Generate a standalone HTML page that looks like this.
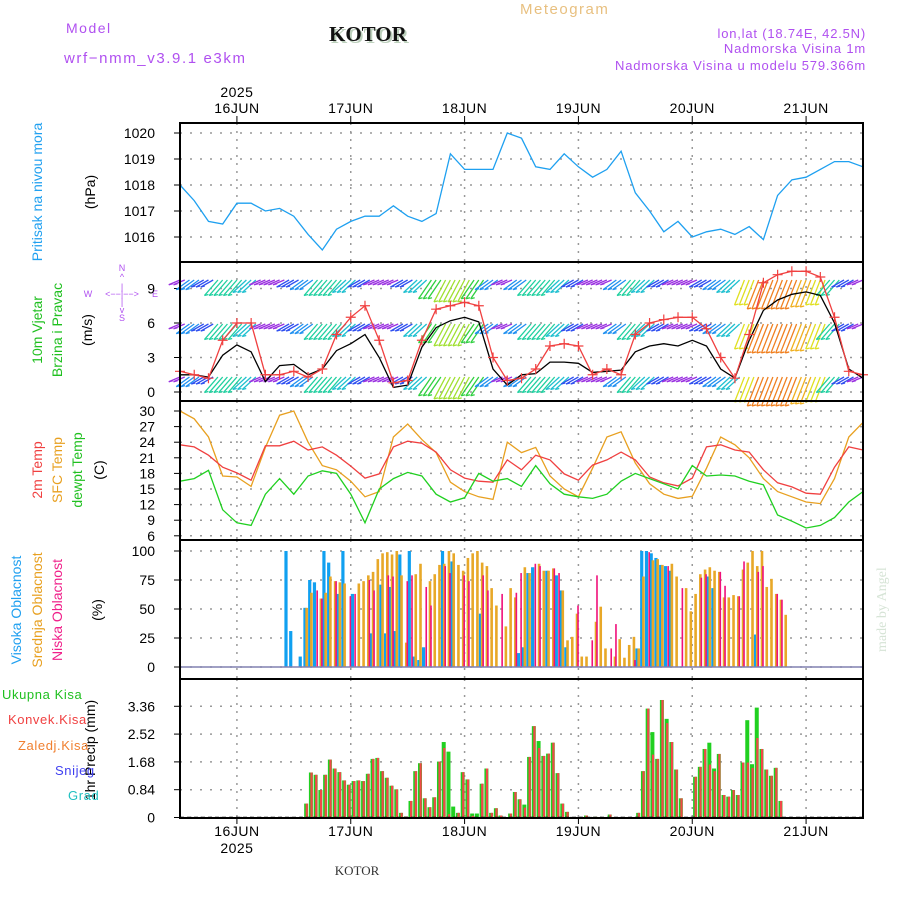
<!DOCTYPE html>
<html><head><meta charset="utf-8"><style>
html,body{margin:0;padding:0;background:#fff;width:900px;height:900px;overflow:hidden}
svg{display:block;font-family:"Liberation Sans",sans-serif}
</style></head><body>
<svg id="chart" width="900" height="900" viewBox="0 0 900 900">
<g>
<text x="66" y="33" font-size="14" fill="#b050f0" letter-spacing="1.5">Model</text>
<text x="64" y="63" font-size="15" fill="#b050f0" letter-spacing="1.6">wrf−nmm_v3.9.1 e3km</text>
<text x="331" y="43" font-size="21" font-weight="bold" font-family="Liberation Serif,serif" fill="#bcd0bc">KOTOR</text>
<text x="329" y="41" font-size="21" font-weight="bold" font-family="Liberation Serif,serif" fill="#111">KOTOR</text>
<text x="520" y="14" font-size="15" fill="#e8c080" letter-spacing="1.5">Meteogram</text>
<text x="866" y="38" font-size="13" fill="#b050f0" text-anchor="end" letter-spacing="0.8">lon,lat (18.74E, 42.5N)</text>
<text x="866" y="53" font-size="13" fill="#b050f0" text-anchor="end" letter-spacing="0.8">Nadmorska Visina 1m</text>
<text x="866" y="70" font-size="13" fill="#b050f0" text-anchor="end" letter-spacing="0.8">Nadmorska Visina u modelu 579.366m</text>
<text x="357" y="875" font-size="13" font-family="Liberation Serif,serif" fill="#333" text-anchor="middle">KOTOR</text>
<text transform="translate(886,652) rotate(-90)" font-size="14" font-family="Liberation Serif,serif" fill="#d6e4d6">made by Angel</text>
</g>
<g font-size="14">
<text transform="translate(42,192) rotate(-90)" fill="#20a0f0" text-anchor="middle">Pritisak na nivou mora</text>
<text transform="translate(95,192) rotate(-90)" fill="#000" text-anchor="middle">(hPa)</text>
<text transform="translate(42,330) rotate(-90)" fill="#20c020" text-anchor="middle">10m Vjetar</text>
<text transform="translate(62,330) rotate(-90)" fill="#20c020" text-anchor="middle">Brzina i Pravac</text>
<text transform="translate(92,330) rotate(-90)" fill="#000" text-anchor="middle">(m/s)</text>
<g fill="#b050f0" font-size="9" text-anchor="middle">
<text x="122" y="271">N</text><text x="122" y="280">^</text><text x="122" y="290">|</text>
<text x="88" y="297">W</text><text x="122" y="297">&lt;−−|−−&gt;</text><text x="155" y="297">E</text>
<text x="122" y="305">|</text><text x="122" y="313">v</text><text x="122" y="321">S</text>
</g>
<text transform="translate(42,470) rotate(-90)" fill="#f04040" text-anchor="middle">2m Temp</text>
<text transform="translate(62,470) rotate(-90)" fill="#e8a020" text-anchor="middle">SFC Temp</text>
<text transform="translate(82,470) rotate(-90)" fill="#20c020" text-anchor="middle">dewpt Temp</text>
<text transform="translate(104,470) rotate(-90)" fill="#000" text-anchor="middle">(C)</text>
<text transform="translate(21,610) rotate(-90)" fill="#20a0f0" text-anchor="middle">Visoka Oblacnost</text>
<text transform="translate(42,610) rotate(-90)" fill="#e8a020" text-anchor="middle">Srednja Oblacnost</text>
<text transform="translate(62,610) rotate(-90)" fill="#f0208a" text-anchor="middle">Niska Oblacnost</text>
<text transform="translate(102,610) rotate(-90)" fill="#000" text-anchor="middle">(%)</text>
<text transform="translate(95,750) rotate(-90)" fill="#000" text-anchor="middle">1hr Precip (mm)</text>
<g font-size="13" letter-spacing="0.6">
<text x="2" y="699" fill="#20c020">Ukupna Kisa</text>
<text x="8" y="724" fill="#f04040">Konvek.Kisa</text>
<text x="18" y="750" fill="#f08030">Zaledj.Kisa</text>
<text x="55" y="775" fill="#4040f0">Snijeg</text>
<text x="68" y="800" fill="#20c0c0">Grad</text>
</g>
</g>
<g id="plot"></g>
</svg>
<script>
// ---- data (hours from 15JUN 12UTC) ----
const dayLabels = ["16JUN","17JUN","18JUN","19JUN","20JUN","21JUN"];
const dayHours = [12,36,60,84,108,132];
const stepHours = 3;
const pressure = [1018.0,1017.4,1016.6,1016.5,1017.3,1017.3,1017.0,1017.1,1016.8,1016.1,1015.5,1016.3,1016.6,1016.8,1016.8,1017.2,1016.8,1016.6,1016.9,1019.2,1018.6,1018.6,1018.6,1020.0,1019.8,1018.7,1018.6,1019.2,1018.7,1018.3,1018.6,1019.3,1017.7,1017.0,1016.2,1016.6,1016.0,1016.2,1016.3,1016.1,1016.4,1015.9,1017.6,1018.2,1018.3,1018.6,1018.9,1018.9,1018.7];
const pressureTicks = [1016,1017,1018,1019,1020];
const windSpeed = [1.5,1.5,1.3,3.2,4.1,3.5,0.9,2.3,2.4,1.5,2.0,3.6,4.2,5.0,3.0,0.4,0.6,3.9,5.6,6.2,6.5,6.1,2.0,0.6,1.5,1.6,2.6,2.6,2.5,1.7,1.8,1.9,3.5,4.0,4.2,4.0,4.5,4.0,2.0,1.2,4.5,7.1,8.0,8.5,8.7,8.4,6.0,2.0,1.2];
const windGust = [1.8,1.5,1.2,4.5,6.0,6.0,1.5,1.5,1.8,1.3,2.0,5.0,6.5,7.5,4.5,0.8,1.0,4.5,7.2,7.5,7.8,7.5,3.0,1.0,1.2,2.0,4.0,4.2,4.0,1.5,2.0,1.5,5.0,6.0,6.3,6.5,6.5,5.5,3.0,1.2,5.0,9.5,10.2,10.5,10.5,10.0,6.5,1.8,1.5];
const barbSpeed = [2,4,3,6,6,5,2,2,3,4,6,6,5,3,2,2,3,5,7,8,8,7,4,2,4,6,6,5,3,2,2,4,6,5,3,2,2,3,4,5,9,11,11,11,10,9,6,3,2];
const windTicks = [0,3,6,9];
const temp2m = [23.5,23.1,21.5,19.2,18.1,16.7,23.3,23.3,24.2,22.5,23.1,21.5,19.4,17.1,17.9,23.1,24.2,23.8,22.1,18.7,17.1,16.5,16.3,20.6,18.7,21.5,20.6,17.9,16.7,19.6,20.6,22.1,20.6,17.3,16.2,15.6,17.1,23.1,23.5,22.5,22.1,18.7,16.2,15.4,14.2,14.0,19.2,23.1,22.5];
const tempSfc = [30,28.5,25,17.5,17.3,15.5,23,29.2,30,24,19.5,18.7,16.5,13.5,14.5,25,27.5,24.5,22,16.3,14.5,13.5,13,24,22,23,17.5,15,13.5,19,25,26,20,16,14,13.2,13.6,19,25,23.5,21,17,14.5,13.5,12.5,12.2,17,25,27.8];
const tempDew = [16.5,17,18.6,11,8.5,8,14,17,14,17.5,18.5,18,14,8.5,15,17,18.2,17.5,14,12.5,13.3,18,16.5,17,15.5,19.5,16,14,13.5,13.2,14,16.5,18,17,16,15,19.5,17.5,17.7,17.5,16.5,15.8,10,8.8,7.5,8,9.5,12.5,14.5];
const tempTicks = [6,9,12,15,18,21,24,27,30];
const cloudStartHour = 23;
const cloudHigh = [100,31,0,9,51,75,73,0,100,90,0,63,100,0,63,0,0,0,29,0,71,29,69,31,97,0,100,9,6,17,0,0,0,100,0,91,0,0,0,0,0,46,0,0,0,0,0,0,0,12,17,81,86,0,0,83,0,79,66,17,0,0,0,0,0,0,0,0,0,0,0,0,0,0,16,100,100,98,94,88,87,83,0,0,0,0,0,0,0,78,68,0,0,0,0,0,0,0,0,28,0,0,0,0,0,0];
const cloudMid = [0,0,0,0,51,64,0,59,64,78,74,73,72,0,0,72,74,79,82,93,98,99,97,100,79,21,0,80,89,0,74,80,88,89,100,98,88,83,94,98,100,90,87,68,53,0,35,68,60,0,86,81,0,89,83,83,85,0,66,23,26,46,9,9,0,39,52,16,0,9,24,8,19,26,16,78,0,92,93,88,0,89,78,0,68,48,63,80,84,86,83,82,60,60,62,61,84,90,100,87,100,69,76,63,58,45];
const cloudLow = [0,0,0,0,0,0,66,59,0,0,74,0,0,61,63,0,0,75,66,0,0,79,78,0,0,74,79,0,0,69,53,0,0,87,81,0,0,79,74,0,0,79,66,0,0,63,0,0,64,81,0,0,89,87,0,0,85,81,0,0,0,53,0,0,23,79,0,0,16,37,0,0,0,6,0,0,99,0,0,0,87,0,0,68,0,0,0,77,80,0,0,82,70,0,0,61,91,0,0,82,87,0,0,63,58,0];
const cloudTicks = [0,25,50,75,100];
const precipStartHour = 27;
const precipTotal = [0.42,1.36,1.29,0.83,1.29,1.75,1.48,1.37,1.12,0.99,1.10,1.12,1.10,1.32,1.77,1.80,1.40,1.20,0.96,0.85,0.14,0.03,0.50,1.40,1.64,0.58,0.31,0.61,1.69,2.28,1.99,0.33,0.14,1.37,1.15,0.12,0.12,1.02,1.48,0.14,0.28,0.06,0,0.12,0.77,0.55,0.39,1.83,2.76,2.31,1.86,1.93,2.26,1.34,0.42,0.17,0,0,0,0.06,0,0.02,0,0,0.09,0,0,0,0,0,0.14,1.40,3.29,2.58,1.77,3.55,2.98,2.28,1.45,0.58,0,0,1.23,1.53,2.07,2.26,1.48,1.92,0.68,0.63,0.83,0.68,1.66,2.94,1.61,3.32,2.07,1.45,1.26,1.50,0.50];
const precipConv = [0.42,1.36,1.29,0.83,1.29,1.75,1.48,1.37,1.12,0.99,1.10,1.12,1.10,1.32,1.77,1.80,1.40,1.20,0.96,0.85,0.14,0.03,0.50,1.40,1.64,0.58,0.31,0.61,1.69,2.10,0.10,0,0.14,1.37,1.15,0.05,0,1.02,1.48,0.14,0.28,0.06,0,0.12,0.77,0.55,0.30,1.83,2.76,2.10,1.86,1.93,2.26,1.34,0.42,0.17,0,0,0,0.06,0,0.02,0,0,0.09,0,0,0,0,0,0.14,1.40,3.29,1.90,1.77,3.55,2.85,2.28,1.45,0.58,0,0,1.23,1.53,2.07,1.60,1.40,1.92,0.68,0.63,0.83,0.68,1.66,1.66,1.50,2.40,2.07,1.45,1.26,1.50,0.50];
const precipTicks = ["0","0.84","1.68","2.52","3.36"];

// ---- axes ----
const X0=180, X1=863, HOURS=144;
const xs = h => X0 + h*(X1-X0)/HOURS;
const yP = p => 133 + (1020-p)*26;
const yW = v => 392 - v*11.5;
const yT = t => 411 + (30-t)*5.2;
const yC = c => 667 - c*1.16;
const yR = r => 817.5 - r*33.1;
const panels = [[123,262,'pressure'],[262,401,'wind'],[401,540,'temperature'],[540,679,'cloud'],[679,818,'precip']];

const NS='http://www.w3.org/2000/svg';
const plot=document.getElementById('plot');
function mk(tag,attrs,parent){const e=document.createElementNS(NS,tag);for(const k in attrs)e.setAttribute(k,attrs[k]);(parent||plot).appendChild(e);return e;}
function grp(name){const g=mk('g',{});return g;}
function line(g,x1,y1,x2,y2,st,w,dash){return mk('line',{x1,y1,x2,y2,stroke:st,'stroke-width':w||1,'stroke-dasharray':dash||'none'},g);}
function path(g,arr,yf,color,name){let d='';arr.forEach((v,i)=>{d+=(i?'L':'M')+xs(i*stepHours).toFixed(1)+' '+yf(v).toFixed(1);});const p=mk('path',{d,fill:'none',stroke:color,'stroke-width':1.3},g);return p;}

// grids
const grid=grp('grid');
panels.forEach(([t,b])=>{dayHours.forEach(h=>line(grid,xs(h),t,xs(h),b,'#999',1.5,'2,6'));});
function hgrid(vals,yf){vals.forEach(v=>line(grid,X0,yf(v),X1,yf(v),'#999',1.5,'2,8'));}
hgrid(pressureTicks,yP);hgrid(windTicks,yW);hgrid(tempTicks,yT);hgrid(cloudTicks,yC);hgrid(precipTicks.map(Number),yR);

// tick labels
const ticks=grp('y-tick-labels');
function tl(vals,yf){vals.forEach(v=>{const t=mk('text',{x:155,y:yf(Number(v))+5,'text-anchor':'end','font-size':14,fill:'#000'},ticks);t.textContent=v;line(ticks,X0-6,yf(Number(v)),X0,yf(Number(v)),'#000',1);});}
tl(pressureTicks,yP);tl(windTicks,yW);tl(tempTicks,yT);tl(cloudTicks,yC);tl(precipTicks,yR);
const xt=grp('x-tick-labels');
dayLabels.forEach((d,i)=>{
 const x=xs(dayHours[i]);
 let t=mk('text',{x,y:113,'text-anchor':'middle','font-size':14,fill:'#000','letter-spacing':'0.5'},xt);t.textContent=d;
 t=mk('text',{x,y:836,'text-anchor':'middle','font-size':14,fill:'#000','letter-spacing':'0.5'},xt);t.textContent=d;
 line(xt,x,116,x,123,'#000',1);line(xt,x,818,x,824,'#000',1);
});
let yr=mk('text',{x:xs(dayHours[0]),y:97,'text-anchor':'middle','font-size':14,fill:'#000','letter-spacing':'0.5'},xt);yr.textContent='2025';
yr=mk('text',{x:xs(dayHours[0]),y:853,'text-anchor':'middle','font-size':14,fill:'#000','letter-spacing':'0.5'},xt);yr.textContent='2025';

// pressure
const gp=grp('pressure-series');
path(gp,pressure,yP,'#1ea0f0','pressure-line');

// wind barbs
const gb=grp('wind-barbs');
function barbColor(s){if(s<=2)return '#9a30e0';if(s<=3)return '#3050f0';if(s<=4)return '#2090f0';if(s<=5)return '#20c0d0';if(s<=6)return '#20d0a0';if(s<=7)return '#30d040';if(s<=8)return '#a0e030';if(s<=9)return '#e0e020';if(s<=10)return '#f0b020';return '#f08020';}
const rows=[284,328,381];
rows.forEach(ry=>{
 barbSpeed.forEach((s,i)=>{
  for(let k=0;k<3;k++){
   const h=i*stepHours+k-1; if(h<0||h>HOURS)continue;
   const x=xs(h); const L=8+s*2.1; const a=(10+Math.min(s,9)*6.5)*Math.PI/180;
   const x2=x-L*Math.cos(a), y2=ry-4+L*Math.sin(a);
   const c=barbColor(s);
   const b=mk('line',{x1:x,y1:ry-4,x2,y2,stroke:c,'stroke-width':1.3},gb);
   
   
   mk('line',{x1:x2,y1:y2,x2:x2+4,y2:y2-1,stroke:c,'stroke-width':1.3},gb);
  }
 });
});
// wind lines
const gw=grp('wind-series');
path(gw,windSpeed,yW,'#000','wind-speed-line');
path(gw,windGust,yW,'#f04040','wind-gust-line');
windGust.forEach((v,i)=>{const x=xs(i*stepHours),y=yW(v);
 const m=mk('path',{d:`M${x-5} ${y}H${x+5}M${x} ${y-5}V${y+5}`,stroke:'#f04040','stroke-width':1.2},gw);
 
 });

// temperatures
const gt=grp('temperature-series');
path(gt,tempSfc,yT,'#e8a020','sfc-temp-line');
path(gt,temp2m,yT,'#f04040','temp-2m-line');
path(gt,tempDew,yT,'#20d020','dewpoint-line');

// clouds
const gc=grp('cloud-bars');
function cbar(v,h,off,w,color,name){if(v<=0)return;const x=xs(h-0.4)+off;const r=mk('rect',{x:x-w/2,y:yC(v),width:w,height:yC(0)-yC(v),fill:color},gc);}
cloudHigh.forEach((v,i)=>cbar(v,cloudStartHour+i,-1.2,3.2,'#10a0f0','cloud-high-bar'));
cloudMid.forEach((v,i)=>cbar(v,cloudStartHour+i,0.5,2.6,'#e8a828','cloud-mid-bar'));
cloudLow.forEach((v,i)=>cbar(v,cloudStartHour+i,1.5,1.6,'#f0107a','cloud-low-bar'));
line(gc,X0,yC(0),X1,yC(0),'#8080b0',1.5);

// precip
const gr=grp('precip-bars');
precipTotal.forEach((v,i)=>{if(v<=0)return;const x=xs(precipStartHour+i-0.4);const r=mk('rect',{x:x-2,y:yR(v),width:4,height:yR(0)-yR(v),fill:'#20d020'},gr);});
precipConv.forEach((v,i)=>{if(v<=0)return;const x=xs(precipStartHour+i-0.4);const r=mk('rect',{x:x-0.5,y:yR(v),width:2.2,height:yR(0)-yR(v),fill:'#f04848'},gr);});
line(gr,X0,yR(0),X1,yR(0),'#000',1.5,'4,3');

// frames
const gf=grp('panel-frames');
panels.forEach(([t,b,n])=>{const r=mk('rect',{x:X0,y:t,width:X1-X0,height:b-t,fill:'none',stroke:'#000','stroke-width':2},gf);});
</script>
</body></html>
